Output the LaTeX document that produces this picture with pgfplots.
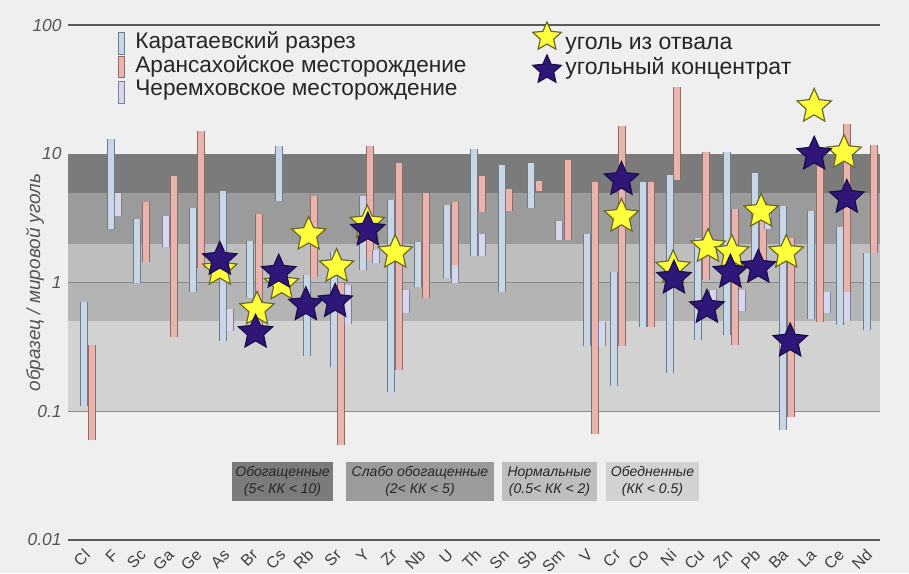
\documentclass[border=0pt]{standalone}
\usepackage{fontspec}
\setmainfont{Liberation Sans}
\usepackage{pgfplots}
\pgfplotsset{compat=1.18}
\usepackage{pgfplotstable}
\usetikzlibrary{shapes.geometric}

\definecolor{bgc}{HTML}{EFEFEF}
\definecolor{bandA}{HTML}{7B7B7B}
\definecolor{bandB}{HTML}{9B9B9B}
\definecolor{bandC}{HTML}{BEBEBE}
\definecolor{bandD}{HTML}{B4B4B4}
\definecolor{bandE}{HTML}{D2D2D2}
\definecolor{gridc}{HTML}{8A8A8A}
\definecolor{axc}{HTML}{5A5A5A}
\definecolor{kfill}{HTML}{C8D6E5}
\definecolor{kbord}{HTML}{6E7B8A}
\definecolor{afill}{HTML}{E9B4AC}
\definecolor{abord}{HTML}{8E6B6B}
\definecolor{cfill}{HTML}{D6D7EC}
\definecolor{cbord}{HTML}{7D7F96}
\definecolor{ystar}{HTML}{FFFF3C}
\definecolor{ystarb}{HTML}{6A6A28}
\definecolor{nstar}{HTML}{2F1679}
\definecolor{nstarb}{HTML}{1B0E48}
\definecolor{txt}{HTML}{262626}
\definecolor{tickc}{HTML}{555555}
\definecolor{cattick}{HTML}{404040}

\pgfdeclareplotmark{fstar}{%
  \pgfpathmoveto{\pgfpointpolar{90}{\pgfplotmarksize}}%
  \pgfpathlineto{\pgfpointpolar{126}{0.47*\pgfplotmarksize}}%
  \pgfpathlineto{\pgfpointpolar{162}{\pgfplotmarksize}}%
  \pgfpathlineto{\pgfpointpolar{198}{0.47*\pgfplotmarksize}}%
  \pgfpathlineto{\pgfpointpolar{234}{\pgfplotmarksize}}%
  \pgfpathlineto{\pgfpointpolar{270}{0.47*\pgfplotmarksize}}%
  \pgfpathlineto{\pgfpointpolar{306}{\pgfplotmarksize}}%
  \pgfpathlineto{\pgfpointpolar{342}{0.47*\pgfplotmarksize}}%
  \pgfpathlineto{\pgfpointpolar{18}{\pgfplotmarksize}}%
  \pgfpathlineto{\pgfpointpolar{54}{0.47*\pgfplotmarksize}}%
  \pgfpathclose
  \pgfusepathqfillstroke
}

% Karataevsky (x = category index, lo, hi)
\pgfplotstableread{
x lo hi
-0.143 0.11 0.70
0.824 2.6 13
1.772 1.0 3.1
3.759 0.84 3.8
4.816 0.35 5.1
5.800 0.76 2.1
6.839 4.3 11.4
7.841 0.27 1.15
8.808 0.22 1.74
9.864 1.26 4.7
10.831 0.14 4.4
11.833 0.93 2.05
12.854 1.09 4.0
13.82 1.6 10.8
14.805 0.84 8.2
15.861 3.8 8.5
17.866 0.32 2.36
18.833 0.156 1.2
19.871 0.455 6.0
20.838 0.2 6.9
21.858 0.36 2.2
22.879 0.39 10.4
23.881 1.43 7.1
24.884 0.072 3.9
25.904 0.52 3.6
26.907 0.47 2.7
27.891 0.43 1.7
}\tblK

% Aransakhoiskoe
\pgfplotstableread{
x lo hi
0.143 0.06 0.33
2.059 1.45 4.2
3.079 0.38 6.7
4.046 1.3 15
6.105 0.45 3.4
8.092 1.1 4.7
9.058 0.055 1.0
10.097 1.5 11.4
11.135 0.21 8.5
12.102 0.76 5.0
13.140 1.38 4.2
14.089 3.5 6.7
15.074 3.6 5.3
16.148 5.1 6.1
17.186 2.15 8.9
18.153 0.066 6.0
19.137 0.32 16.3
20.140 0.455 6.0
21.106 6.3 33
22.127 1.05 10.4
23.165 0.33 3.7
24.168 1.5 4.2
25.170 0.09 2.2
26.191 0.49 9.5
27.175 0.85 17
28.142 1.7 11.8
}\tblA

% Cheremkhovskoe
\pgfplotstableread{
x lo hi
1.092 3.3 5.0
2.793 1.9 3.3
5.102 0.42 0.62
9.309 0.48 0.95
10.329 1.43 1.8
11.386 0.58 0.88
13.140 1.0 1.38
14.089 1.6 2.36
16.846 2.15 3.0
18.421 0.32 0.49
22.395 0.62 0.88
23.433 0.6 0.88
24.347 2.6 3.5
26.459 0.58 0.85
27.175 0.5 0.85
}\tblC

% coal from dump
\pgfplotstableread{
x y
4.72 1.26
6.05 0.62
6.93 0.97
7.90 2.36
8.90 1.33
10.00 2.9
11.00 1.71
19.10 3.26
20.95 1.3
22.20 1.9
23.05 1.71
24.10 3.56
25.00 1.71
26.00 23.3
27.07 10.2
}\tblY

% coal concentrate
\pgfplotstableread{
x y
4.72 1.51
6.00 0.41
6.83 1.2
7.80 0.67
8.85 0.71
10.02 2.55
19.10 6.3
20.98 1.08
22.16 0.64
23.00 1.2
24.00 1.31
25.14 0.35
26.00 9.9
27.17 4.57
}\tblN

\pgfplotsset{
  rangebar/.style 2 args={draw=none, mark=none, forget plot,
    error bars/.cd, y dir=plus, y explicit, error mark=none,
    error bar style={draw=#1, line width=#2}},
}

\begin{document}
\begin{tikzpicture}
\fill[bgc] (-34pt,-16.5pt) rectangle (420.5pt,270pt);
\begin{axis}[
  at={(0,0)}, anchor=south west,
  scale only axis, width=406pt, height=257.5pt,
  xmin=-0.716, xmax=28.357,
  ymode=log, ymin=0.01, ymax=100,
  separate axis lines,
  y axis line style={draw=none},
  x axis line style={draw=axc, line width=0.7pt},
  xtick={0,...,28},
  xticklabels={Cl,F,Sc,Ga,Ge,As,Br,Cs,Rb,Sr,Y,Zr,Nb,U,Th,Sn,Sb,Sm,V,Cr,Co,Ni,Cu,Zn,Pb,Ba,La,Ce,Nd},
  ytick={0.01,0.1,1,10,100},
  yticklabels={0.01,0.1,1,10,100},
  major tick length=0pt, tick style={draw=none},
  yticklabel style={font=\fontsize{8.7}{10}\selectfont\itshape, text=tickc, inner sep=0pt, xshift=-3pt},
  xticklabel style={font=\fontsize{8}{8.5}\selectfont, text=cattick, inner sep=0pt, xshift=-0.3pt, yshift=-6pt, rotate=45, anchor=east},
  ylabel={образец / мировой уголь},
  ylabel style={at={(axis description cs:-0.0406,0.5)}, anchor=center, font=\fontsize{9.5}{11}\selectfont\itshape, text=tickc},
]
% background bands
\addplot[draw=none, fill=bandE, forget plot] coordinates {(-0.716,0.1) (28.357,0.1) (28.357,0.5) (-0.716,0.5)};
\addplot[draw=none, fill=bandD, forget plot] coordinates {(-0.716,0.5) (28.357,0.5) (28.357,1) (-0.716,1)};
\addplot[draw=none, fill=bandC, forget plot] coordinates {(-0.716,1) (28.357,1) (28.357,2) (-0.716,2)};
\addplot[draw=none, fill=bandB, forget plot] coordinates {(-0.716,2) (28.357,2) (28.357,5) (-0.716,5)};
\addplot[draw=none, fill=bandA, forget plot] coordinates {(-0.716,5) (28.357,5) (28.357,10) (-0.716,10)};
\addplot[gridc, line width=0.6pt, forget plot] coordinates {(-0.716,0.1) (28.357,0.1)};
\addplot[gridc, line width=0.6pt, forget plot] coordinates {(-0.716,1) (28.357,1)};
% range bars
\addplot[rangebar={kbord}{4pt}] table[x=x, y=lo, y error expr=\thisrow{hi}-\thisrow{lo}] {\tblK};
\addplot[rangebar={kfill}{3pt}] table[x=x, y=lo, y error expr=\thisrow{hi}-\thisrow{lo}] {\tblK};
\addplot[rangebar={abord}{4pt}] table[x=x, y=lo, y error expr=\thisrow{hi}-\thisrow{lo}] {\tblA};
\addplot[rangebar={afill}{3pt}] table[x=x, y=lo, y error expr=\thisrow{hi}-\thisrow{lo}] {\tblA};
\addplot[rangebar={cbord}{4pt}] table[x=x, y=lo, y error expr=\thisrow{hi}-\thisrow{lo}] {\tblC};
\addplot[rangebar={cfill}{3pt}] table[x=x, y=lo, y error expr=\thisrow{hi}-\thisrow{lo}] {\tblC};
% stars
\addplot[only marks, mark=fstar, mark size=9pt, mark options={fill=ystar, draw=ystarb, line width=0.6pt}] table[x=x, y=y] {\tblY};
\addplot[only marks, mark=fstar, mark size=9pt, mark options={fill=nstar, draw=nstarb, line width=0.6pt}] table[x=x, y=y] {\tblN};
\end{axis}
% legend for ranges
\draw[kbord, fill=kfill, line width=0.5pt] (25pt,242.5pt) rectangle (28pt,253.5pt);
\draw[abord, fill=afill, line width=0.5pt] (25pt,231pt) rectangle (28pt,241.5pt);
\draw[cbord, fill=cfill, line width=0.5pt] (25pt,218pt) rectangle (28pt,229pt);
\node[anchor=base west, inner sep=0pt, font=\fontsize{11.3}{13}\selectfont, text=txt] at (33.5pt,245.5pt) {Каратаевский разрез};
\node[anchor=base west, inner sep=0pt, font=\fontsize{11.3}{13}\selectfont, text=txt] at (33.5pt,233.5pt) {Арансахойское месторождение};
\node[anchor=base west, inner sep=0pt, font=\fontsize{11.3}{13}\selectfont, text=txt] at (33.5pt,222pt) {Черемховское месторождение};
% legend for stars
\node[star, star points=5, star point ratio=2.13, inner sep=0pt, minimum size=15pt, fill=ystar, draw=ystarb, line width=0.6pt] at (239.5pt,251.5pt) {};
\node[star, star points=5, star point ratio=2.13, inner sep=0pt, minimum size=15pt, fill=nstar, draw=nstarb, line width=0.6pt] at (239.5pt,235pt) {};
\node[anchor=base west, inner sep=0pt, font=\fontsize{11.5}{13}\selectfont, text=txt] at (248.5pt,245pt) {уголь из отвала};
\node[anchor=base west, inner sep=0pt, font=\fontsize{11.5}{13}\selectfont, text=txt] at (248.5pt,232.5pt) {угольный концентрат};
% band key boxes
\node[fill=bandA, minimum width=50.5pt, minimum height=19.5pt, inner sep=0pt, align=center, font=\fontsize{7}{8.5}\selectfont\itshape, text=txt] at (107.25pt,29.25pt) {Обогащенные\\(5< КК < 10)};
\node[fill=bandB, minimum width=74pt, minimum height=19.5pt, inner sep=0pt, align=center, font=\fontsize{7}{8.5}\selectfont\itshape, text=txt] at (176pt,29.25pt) {Слабо обогащенные\\(2< КК < 5)};
\node[fill=bandC, minimum width=47.5pt, minimum height=19.5pt, inner sep=0pt, align=center, font=\fontsize{7}{8.5}\selectfont\itshape, text=txt] at (240.75pt,29.25pt) {Нормальные\\(0.5< КК < 2)};
\node[fill=bandE, minimum width=46.5pt, minimum height=19.5pt, inner sep=0pt, align=center, font=\fontsize{7}{8.5}\selectfont\itshape, text=txt] at (292.25pt,29.25pt) {Обедненные\\(КК < 0.5)};
\pgfresetboundingbox
\useasboundingbox (-34pt,-16.5pt) rectangle (420.5pt,270pt);
\end{tikzpicture}
\end{document}
